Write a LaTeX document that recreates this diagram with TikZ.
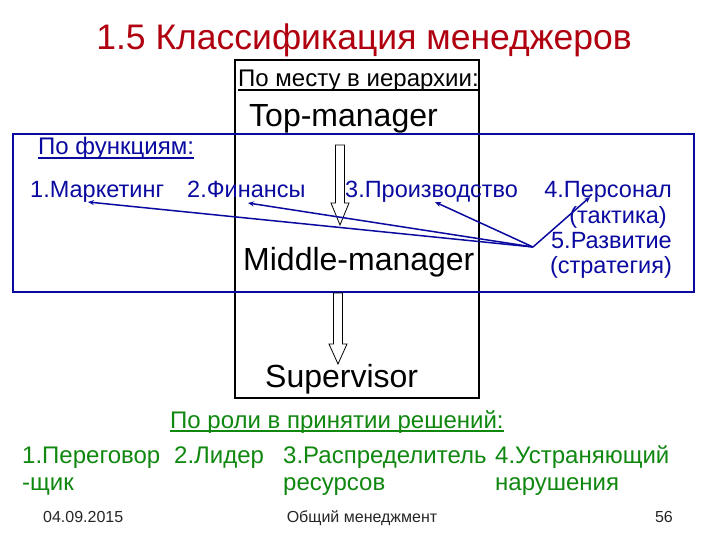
\documentclass[tikz,border=0pt]{standalone}
\usepackage{fontspec}
\setmainfont{Liberation Sans}
\usetikzlibrary{calc,arrows.meta}
\definecolor{titlered}{RGB}{176,0,16}
\definecolor{fnblue}{RGB}{10,10,160}
\definecolor{rolegreen}{RGB}{16,136,16}
\def\fsz#1#2{\fontsize{#1}{#2}\selectfont}
\def\hollowdown(#1,#2,#3,#4){\draw[line width=0.8pt, fill=white] (#1-4.5,#2) -- (#1+4.5,#2) -- (#1+4.5,#3) -- (#1+9,#3) -- (#1,#4) -- (#1-9,#3) -- (#1-4.5,#3) -- cycle;}
\tikzset{
  lbl/.style={anchor=base west, inner sep=0pt},
  fnlbl/.style={lbl, text=fnblue, font=\fsz{23.5}{25}},
  rolelbl/.style={lbl, text=rolegreen, font=\fsz{24}{27}, align=left},
  levellbl/.style={lbl, font=\fsz{32}{36}},
  pointer/.style={draw=fnblue, line width=1.5pt, -{Stealth[length=6pt,width=5pt]}},
  footlbl/.style={inner sep=0pt, anchor=base, text=black!85, font=\fsz{16}{18}}
}
\begin{document}
\begin{tikzpicture}[x=1pt, y=-1pt]
		%%%%% START %%%%%
		\useasboundingbox[fill=white] (0,0) rectangle (720,540);
		
		\node[inner sep=0pt, anchor=base, text=titlered, font=\fsz{35.5}{40}] (title) at (364,50) {1.5 Классификация менеджеров};
		
		% hierarchy column
		\draw[line width=1.5pt] (235,60) rectangle (479,398);
		\node[lbl, font=\fsz{24}{26}] (hier) at (238,87) {По месту в иерархии:};
		\draw[line width=1.2pt] ([yshift=-3pt]hier.base west) -- ([yshift=-3pt]hier.base east);
		\node[levellbl] (top) at (249,127) {Top-manager};
		\node[levellbl] (mid) at (243,270) {Middle-manager};
		\node[levellbl] (sup) at (265,387) {Supervisor};
		
		% functions band
		\draw[draw=fnblue, line width=1.5pt] (13,134) rectangle (694,292);
		\node[fnlbl, font=\fsz{24}{26}] (func) at (38,155) {По функциям:};
		\draw[fnblue, line width=1.2pt] ([yshift=-3pt]func.base west) -- ([yshift=-3pt]func.base east);
		
		\hollowdown(340,145,203,225)
		\hollowdown(338,293,344,364)
		
		\node[fnlbl] (mark) at (30,198) {1.Маркетинг};
		\node[fnlbl] (fin) at (187,198) {2.Финансы};
		\node[fnlbl] (prod) at (345,197) {3.Производство};
		\node[fnlbl, anchor=base east] (pers) at (672,198) {4.Персонал};
		\node[fnlbl, anchor=base east] (tact) at (667,223) {(тактика)};
		\node[fnlbl, anchor=base east] (devl) at (672,248) {5.Развитие};
		\node[fnlbl, anchor=base east] (strat) at (672,273) {(стратегия)};
		
		\coordinate (hub) at (533,247);
		\draw[pointer] (hub) -- ($(mark.base west)+(58,4)$);
		\draw[pointer] (hub) -- ($(fin.base west)+(61,5)$);
		\draw[pointer] (hub) -- ($(prod.base west)+(90,5)$);
		\draw[pointer] (hub) -- ($(pers.base east)+(-82,-1)$);
		
		% decision roles (two-line nodes sit on their last line)
		\node[lbl, text=rolegreen, font=\fsz{24}{27}] (role) at (170,428) {По роли в принятии решений:};
		\draw[rolegreen, line width=1.2pt] ([yshift=-3pt]role.base west) -- ([yshift=-3pt]role.base east);
		\node[rolelbl] (nego) at (22,490) {1.Переговор\\-щик};
		\node[rolelbl] (lead) at (174,463) {2.Лидер};
		\node[rolelbl] (alloc) at (283,490) {3.Распределитель\\ресурсов};
		\node[rolelbl] (fix) at (495,490) {4.Устраняющий\\нарушения};
		
		% footer
		\node[footlbl, anchor=base west] (date) at (43,522) {04.09.2015};
		\node[footlbl] (course) at (362,522) {Общий менеджмент};
		\node[footlbl, anchor=base east] (page) at (673,522) {56};
		%%%%% END %%%%%
\end{tikzpicture}
\end{document}
